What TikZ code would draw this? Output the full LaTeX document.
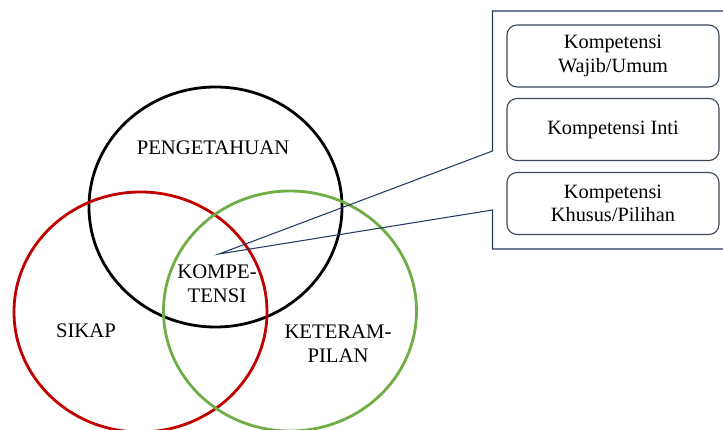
\documentclass[tikz,border=0pt]{standalone}
\usepackage{fontspec}
\setmainfont{Liberation Serif}
\usetikzlibrary{shapes.geometric}
\definecolor{cred}{HTML}{C00000}
\definecolor{cgreen}{HTML}{70AD47}
\definecolor{cnavy}{HTML}{223A60}
\definecolor{cbox}{HTML}{3B4656}
\tikzset{
  venn/.style={ellipse, draw, line width=2.8pt, minimum width=253pt, minimum height=240pt, inner sep=0pt},
  lbl/.style={font=\fontsize{20.7}{24}\selectfont, align=center, inner sep=0pt},
  kbox/.style={draw=cbox, line width=1.1pt, rounded corners=10pt, minimum width=212pt, minimum height=62pt, inner sep=0pt, align=center, font=\fontsize{20.3}{23.5}\selectfont},
  callout/.style={draw=cnavy, line width=1.05pt, line join=miter}
}
\begin{document}
\begin{tikzpicture}[x=1pt,y=-1pt]
\useasboundingbox (0,0) rectangle (723,430);
\clip (0,0) rectangle (723,430);
% circles
\node[venn, draw=black] (know) at (215.5,207) {};
\node[venn, draw=cred] (att) at (140.5,312) {};
\node[venn, draw=cgreen] (skill) at (290,311) {};
% labels
\node[lbl] (lk) at (213,148) {PENGETAHUAN};
\node[lbl] (lc) at (217,283.5) {KOMPE-\\TENSI};
\node[lbl] (ls) at (86,331) {SIKAP};
\node[lbl] (lt) at (338,344) {KETERAM-\\PILAN};
% boxes
\node[kbox] (b1) at (613,56) {Kompetensi\\Wajib/Umum};
\node[kbox] (b2) at (613,129.5) {Kompetensi Inti};
\node[kbox] (b3) at (613,203.5) {Kompetensi\\Khusus/Pilihan};
% callout frame
\coordinate (tip) at (219,254);
\coordinate (fa) at (492.5,151);
\coordinate (fb) at (492.5,210);
\draw[callout] (740,11) -- (492.5,11) -- (fa) -- (tip) -- (fb) -- (492.5,249) -- (740,249);
\end{tikzpicture}
\end{document}
